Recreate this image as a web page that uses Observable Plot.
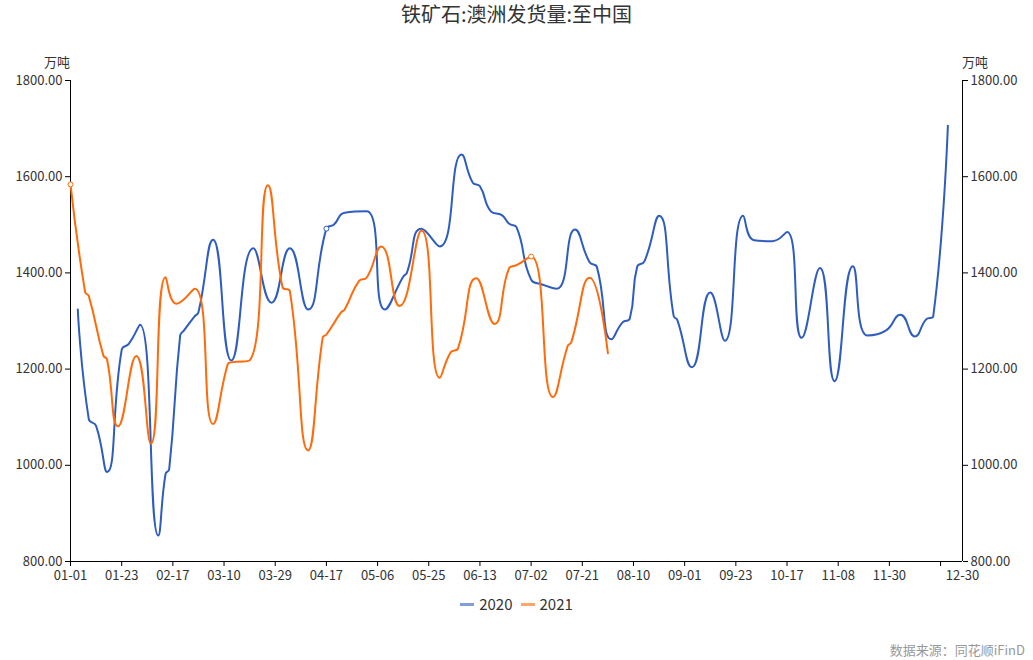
<!DOCTYPE html>
<html>
<head>
<meta charset="utf-8">
<script src="https://cdn.jsdelivr.net/npm/d3@7"></script>
<script src="https://cdn.jsdelivr.net/npm/@observablehq/plot@0.6"></script>
<style>
  body { margin: 0; background: #fff; font-family: "Noto Sans CJK SC", "Noto Sans", sans-serif; }
  #wrap { position: relative; width: 1033px; height: 660px; overflow: hidden; background: #fff; }
  #chart { position: absolute; left: 0; top: 0; }
  #title { position: absolute; left: 0; top: 0; width: 1033px; text-align: center; font-size: 20px; line-height: 28px; color: #333; }
  .unit { position: absolute; top: 53px; font-size: 13px; line-height: 18px; color: #333; }
  #unitL { left: 30px; width: 40px; text-align: right; }
  #unitR { left: 962px; width: 40px; text-align: left; }
  #legend { position: absolute; left: 0; top: 593px; width: 1033px; display: flex; justify-content: center; align-items: center; font-size: 15px; line-height: 22px; color: #333; }
  .item { display: flex; align-items: center; margin: 0 4px; }
  .sw { display: inline-block; width: 14px; height: 3px; margin-right: 5px; opacity: 0.6; }
  #source { position: absolute; right: 8px; top: 640px; font-size: 13px; line-height: 20px; color: #999; }
</style>
</head>
<body>
<div id="wrap">
  <div id="chart"></div>
  <div id="title"></div>
  <div class="unit" id="unitL"></div>
  <div class="unit" id="unitR"></div>
  <div id="legend"></div>
  <div id="source"></div>
</div>
<script>
// ---- data ----
const titleText = "铁矿石:澳洲发货量:至中国";
const unitText = "万吨";
const sourceText = "数据来源：同花顺iFinD";
const seriesNames = ["2020", "2021"];
const seriesColors = ["#2e5cc0", "#ff6a0a"];

// category axis: 123 categories (position 0..122)
const categoryCount = 123;
const tickIdx = [0, 7, 14, 21, 28, 35, 42, 49, 56, 63, 70, 77, 84, 91, 98, 105, 112, 119];
const labelIdx = [0, 7, 14, 21, 28, 35, 42, 49, 56, 63, 70, 77, 84, 91, 98, 105, 112, 122];
const labelText = ["01-01", "01-23", "02-17", "03-10", "03-29", "04-17", "05-06", "05-25", "06-13",
                   "07-02", "07-21", "08-10", "09-01", "09-23", "10-17", "11-08", "11-30", "12-30"];
const yTicks = [800, 1000, 1200, 1400, 1600, 1800];

// 2020 series (position on the category axis, value)
const idx2020 = [1, 2.5, 3.5, 5, 7, 8, 9.5, 12, 13, 13.5, 15, 15.5, 17, 17.5, 19.5, 22, 25, 27.5, 30, 32.5,
                 35, 36, 37.5, 40.5, 43, 45.5, 46, 48, 50.5, 53.5, 55, 56, 57.5, 59, 60, 61, 63, 64.5, 66.5,
                 69, 71, 72, 74, 75.5, 76.5, 77.5, 78.5, 80.5, 82.5, 83, 85, 87.5, 89.5, 92, 93.5, 96, 98,
                 100, 102.5, 104.5, 107, 109, 111.5, 113.5, 115.5, 117, 118, 120];
const val2020 = [1324, 1096, 1082, 986, 1240, 1253, 1292, 854, 982, 992, 1270, 1280, 1310, 1318, 1469, 1218,
                 1451, 1338, 1451, 1324, 1492, 1500, 1525, 1528, 1324, 1392, 1400, 1492, 1455, 1646, 1588,
                 1580, 1528, 1520, 1502, 1495, 1386, 1376, 1367, 1490, 1422, 1412, 1262, 1297, 1305, 1413,
                 1424, 1519, 1310, 1302, 1204, 1359, 1259, 1519, 1468, 1466, 1485, 1265, 1410, 1175, 1414,
                 1270, 1280, 1313, 1268, 1303, 1310, 1706];

// 2021 series
const idx2021 = [0, 2, 2.5, 4.5, 5, 6.5, 9, 11, 13, 14.5, 17, 19.5, 21.5, 22, 24.5, 27, 29, 30, 32.5, 34.5, 35,
                 37, 37.5, 39.5, 40.5, 42.5, 45, 48, 50.5, 52, 53, 55.5, 58, 60, 61, 63, 66, 68, 68.5, 71, 73.5];
const val2021 = [1584, 1360, 1352, 1228, 1220, 1081, 1227, 1045, 1391, 1336, 1367, 1086, 1210, 1214, 1218, 1582,
                 1370, 1362, 1031, 1266, 1272, 1318, 1324, 1384, 1390, 1455, 1331, 1488, 1182, 1235, 1243, 1389,
                 1294, 1410, 1416, 1434, 1142, 1248, 1256, 1390, 1233];

// points drawn with a hollow symbol
const symbolIdx2020 = [35];
const symbolIdx2021 = [0, 63];

// ---- smooth curve (same construction as a "smooth: true" line, factor 0.5) ----
const SMOOTH = 0.5;
function smoothCurve(context) {
  let pts = [];
  function draw() {
    const n = pts.length;
    if (!n) return;
    let cpx0, cpy0, prevX, prevY;
    for (let k = 0; k < n; k++) {
      const [x, y] = pts[k];
      if (k === 0) {
        context.moveTo(x, y);
        cpx0 = x; cpy0 = y;
      } else {
        let cpx1, cpy1, nextCpx0, nextCpy0;
        if (k === n - 1) {
          cpx1 = x; cpy1 = y;
        } else {
          const [nextX, nextY] = pts[k + 1];
          let vx = nextX - prevX, vy = nextY - prevY;
          const dx0 = x - prevX, dx1 = nextX - x, dy0 = y - prevY, dy1 = nextY - y;
          const lenPrev = Math.sqrt(dx0 * dx0 + dy0 * dy0);
          const lenNext = Math.sqrt(dx1 * dx1 + dy1 * dy1);
          const ratio = lenNext / (lenNext + lenPrev);
          nextCpx0 = x + vx * SMOOTH * ratio;
          nextCpy0 = y + vy * SMOOTH * ratio;
          nextCpx0 = Math.min(nextCpx0, Math.max(nextX, x));
          nextCpy0 = Math.min(nextCpy0, Math.max(nextY, y));
          nextCpx0 = Math.max(nextCpx0, Math.min(nextX, x));
          nextCpy0 = Math.max(nextCpy0, Math.min(nextY, y));
          vx = nextCpx0 - x; vy = nextCpy0 - y;
          cpx1 = x - vx * lenPrev / lenNext;
          cpy1 = y - vy * lenPrev / lenNext;
          cpx1 = Math.min(cpx1, Math.max(prevX, x));
          cpy1 = Math.min(cpy1, Math.max(prevY, y));
          cpx1 = Math.max(cpx1, Math.min(prevX, x));
          cpy1 = Math.max(cpy1, Math.min(prevY, y));
          vx = x - cpx1; vy = y - cpy1;
          nextCpx0 = x + vx * lenNext / lenPrev;
          nextCpy0 = y + vy * lenNext / lenPrev;
        }
        context.bezierCurveTo(cpx0, cpy0, cpx1, cpy1, x, y);
        cpx0 = nextCpx0; cpy0 = nextCpy0;
      }
      prevX = x; prevY = y;
    }
  }
  return {
    areaStart() {}, areaEnd() {},
    lineStart() { pts = []; },
    point(x, y) { pts.push([+x, +y]); },
    lineEnd() { draw(); }
  };
}

// ---- build ----
const d2020 = idx2020.map((i, k) => ({i, v: val2020[k]}));
const d2021 = idx2021.map((i, k) => ({i, v: val2021[k]}));
const s2020 = d2020.filter(d => symbolIdx2020.includes(d.i));
const s2021 = d2021.filter(d => symbolIdx2021.includes(d.i));
const lastIdx = categoryCount - 1;
const fmtY = d => d.toFixed(2);
const fmtX = i => labelText[labelIdx.indexOf(i)];

const chart = Plot.plot({
  width: 1033,
  height: 600,
  marginTop: 80,
  marginBottom: 39,
  marginLeft: 70,
  marginRight: 71,
  x: {type: "linear", domain: [0, lastIdx], axis: null},
  y: {domain: [800, 1800], axis: null},
  style: {fontFamily: '"Noto Sans CJK SC", "Noto Sans", sans-serif', fontSize: "13px", color: "#333", background: "transparent"},
  marks: [
    Plot.axisY({anchor: "left", ticks: yTicks, tickFormat: fmtY, tickSize: 5, tickPadding: 3, label: null, stroke: "#000"}),
    Plot.axisY({anchor: "right", ticks: yTicks, tickFormat: fmtY, tickSize: 5, tickPadding: 3, label: null, stroke: "#000"}),
    Plot.axisX({ticks: tickIdx, tickSize: 5, tickFormat: () => "", label: null, stroke: "#000"}),
    Plot.axisX({ticks: labelIdx, tickSize: 0, tickPadding: 9, tickFormat: fmtX, label: null}),
    Plot.ruleY([800], {stroke: "#000", strokeWidth: 1}),
    Plot.ruleX([0, lastIdx], {y1: 800, y2: 1800, stroke: "#000", strokeWidth: 1}),
    Plot.line(d2020, {x: "i", y: "v", stroke: seriesColors[0], strokeWidth: 2, curve: smoothCurve}),
    Plot.line(d2021, {x: "i", y: "v", stroke: seriesColors[1], strokeWidth: 2, curve: smoothCurve}),
    Plot.dot(s2020, {x: "i", y: "v", r: 2.5, fill: "#fff", stroke: seriesColors[0], strokeWidth: 1}),
    Plot.dot(s2021, {x: "i", y: "v", r: 2.5, fill: "#fff", stroke: seriesColors[1], strokeWidth: 1})
  ]
});
document.getElementById("chart").appendChild(chart);

document.getElementById("title").textContent = titleText;
document.getElementById("unitL").textContent = unitText;
document.getElementById("unitR").textContent = unitText;
document.getElementById("source").textContent = sourceText;
const legend = document.getElementById("legend");
seriesNames.forEach((name, k) => {
  const item = document.createElement("span");
  item.className = "item";
  const sw = document.createElement("span");
  sw.className = "sw";
  sw.style.background = seriesColors[k];
  const t = document.createElement("span");
  t.textContent = name;
  item.appendChild(sw);
  item.appendChild(t);
  legend.appendChild(item);
});
</script>
</body>
</html>
